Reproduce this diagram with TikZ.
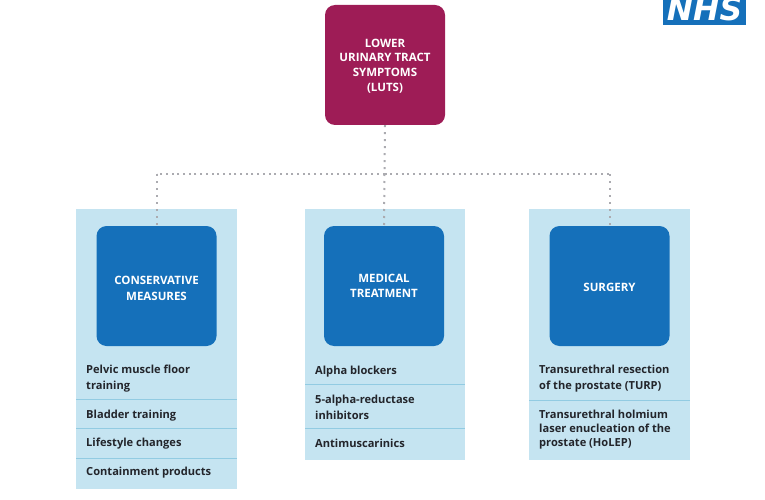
\documentclass[tikz,border=0pt]{standalone}
\usepackage{fontspec}
\setmainfont{Open Sans}
\newfontfamily\logofont{DejaVu Sans}
\definecolor{plum}{HTML}{9E1C56}
\definecolor{nhsblue}{HTML}{1570BA}
\definecolor{pale}{HTML}{C5E4F1}
\definecolor{rulec}{HTML}{92CBE2}
\definecolor{dotc}{HTML}{ABABB0}
\definecolor{ink}{HTML}{23252B}
\newcommand\headtext[3]{\raisebox{-#1pt}[0pt][0pt]{\fontsize{11.5}{#2}\selectfont\begin{tabular}{@{}c@{}}#3\end{tabular}}}
\tikzset{
  x=1pt,y=-1pt,
  headbox/.style={draw=none,fill=#1,rounded corners=10,minimum width=120,minimum height=120,inner sep=0,align=center,text=white,font=\bfseries\fontsize{11.5}{15}\selectfont},
  panel/.style={fill=pale,draw=none},
  itemline/.style={draw=rulec,line width=0.8},
  item/.style={anchor=west,inner sep=0,align=left,text=ink,font=\bfseries\fontsize{11.1}{#1}\selectfont},
  item/.default=15.4,
  link/.style={draw=dotc,line width=2,dash pattern=on 2 off 5},
  hlink/.style={draw=dotc,line width=2,dash pattern=on 2 off 3.7},
  logotext/.style={text=white,inner sep=0,anchor=base,font={\logofont\bfseries\itshape\fontsize{31.5}{32}\selectfont}},
}
\begin{document}
\begin{tikzpicture}
\useasboundingbox (0,0) rectangle (765,500);
% panels
\path[panel] (76,209) rectangle (237,489);
\path[panel] (305,209) rectangle (465,460);
\path[panel] (529,209) rectangle (690,460);
% rules
\draw[itemline] (76,399.5) -- (237,399.5);
\draw[itemline] (76,428.5) -- (237,428.5);
\draw[itemline] (76,458.5) -- (237,458.5);
\draw[itemline] (305,384.5) -- (465,384.5);
\draw[itemline] (305,428.5) -- (465,428.5);
\draw[itemline] (529,400.5) -- (690,400.5);
% head boxes
\node[headbox=plum] (luts) at (385,65) {\headtext{4.4}{14.7}{LOWER\\URINARY TRACT\\SYMPTOMS\\(LUTS)}};
\node[headbox=nhsblue] (cons) at (156.5,286) {\headtext{6.5}{16}{CONSERVATIVE\\MEASURES}};
\node[headbox=nhsblue] (med) at (384,286) {\headtext{4.4}{15}{MEDICAL\\TREATMENT}};
\node[headbox=nhsblue] (surg) at (609.5,286) {\headtext{5.6}{15}{SURGERY}};
% connectors
\coordinate (hub) at (384.5,174);
\coordinate (hubl) at (hub -| cons.north);
\coordinate (hubr) at (hub -| surg.north);
\draw[link] (luts.south) -- (hub);
\draw[hlink] (hub) -- (hubl);
\draw[hlink] (hub) -- (hubr);
\draw[link] (hubl) -- (cons.north);
\draw[link] (hubr) -- (surg.north);
\draw[link] (hub) -- (med.north);
% items
\node[item] (a1) at (86,378.7) {Pelvic muscle floor\\training};
\node[item] (a2) at (86,415.5) {Bladder training};
\node[item] (a3) at (86,443.5) {Lifestyle changes};
\node[item] (a4) at (86,472.5) {Containment products};
\node[item] (b1) at (315,371.5) {Alpha blockers};
\node[item] (b2) at (315,407.2) {5-alpha-reductase\\inhibitors};
\node[item] (b3) at (315,443.5) {Antimuscarinics};
\node[item] (c1) at (539,378.7) {Transurethral resection\\of the prostate (TURP)};
\node[item=14.3] (c2) at (539,429.5) {Transurethral holmium\\laser enucleation of the\\prostate (HoLEP)};
% logo
\begin{scope}
\clip (663,0) rectangle (746,25);
\fill[nhsblue] (663,0) rectangle (746,25);
\node[logotext] (nhs) at (704.5,21) {NHS};
\end{scope}
\end{tikzpicture}
\end{document}
